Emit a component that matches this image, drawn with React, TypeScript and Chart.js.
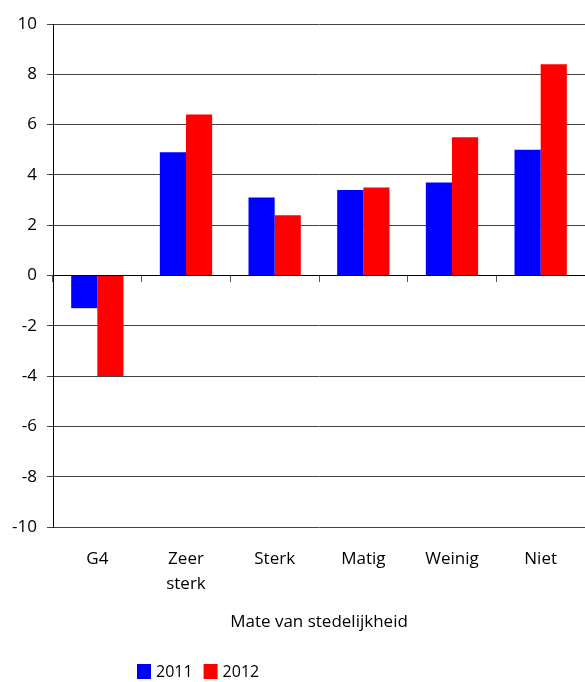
import React, { useEffect, useRef } from "react";
import { Chart, registerables } from "chart.js";

Chart.register(...registerables);

const categories: (string | string[])[] = ["G4", ["Zeer", "sterk"], "Sterk", "Matig", "Weinig", "Niet"];
const series2011 = [-1.3, 4.9, 3.1, 3.4, 3.7, 5.0];
const series2012 = [-4.0, 6.4, 2.4, 3.5, 5.5, 8.4];
const seriesLabels = ["2011", "2012"];
const seriesColors = ["#0000ff", "#ff0000"];
const yMin = -10;
const yMax = 10;
const yStep = 2;
const xTitle = "Mate van stedelijkheid";

const FONT = "'Open Sans', sans-serif";

const legendPlugin = {
  id: "customLegend",
  afterDraw(chart: any) {
    const ctx = chart.ctx;
    ctx.save();
    ctx.font = `16px ${FONT}`;
    ctx.textBaseline = "middle";
    ctx.textAlign = "left";
    let x = 137;
    const boxTop = 664;
    const boxW = 14;
    const boxH = 15;
    chart.data.datasets.forEach((ds: any) => {
      ctx.fillStyle = ds.backgroundColor;
      ctx.fillRect(x, boxTop, boxW, boxH);
      ctx.fillStyle = "#000";
      const tx = x + boxW + 5;
      ctx.fillText(ds.label, tx, boxTop + boxH / 2 + 1);
      x = tx + ctx.measureText(ds.label).width + 11;
    });
    ctx.restore();
  },
};

export default function App() {
  const ref = useRef<HTMLCanvasElement | null>(null);
  useEffect(() => {
    document.body.style.margin = "0";
    const canvas = ref.current!;
    const font = { family: FONT, size: 17 };
    const chart = new Chart(canvas, {
      type: "bar",
      data: {
        labels: categories as any,
        datasets: [
          { label: seriesLabels[0], data: series2011, backgroundColor: seriesColors[0], barPercentage: 1, categoryPercentage: 0.59, xAxisID: "x" },
          { label: seriesLabels[1], data: series2012, backgroundColor: seriesColors[1], barPercentage: 1, categoryPercentage: 0.59, xAxisID: "x" },
        ],
      },
      options: {
        animation: false,
        responsive: true,
        maintainAspectRatio: false,
        layout: { padding: { top: 24, right: 0, left: 0, bottom: 50 } },
        plugins: { legend: { display: false }, tooltip: { enabled: false } },
        scales: {
          x: {
            type: "category",
            position: { y: 0 } as any,
            offset: true,
            grid: { offset: true, drawOnChartArea: false, drawTicks: true, tickLength: 6, color: "#555" },
            ticks: { display: false },
            border: { display: true, color: "#000", width: 1 },
          },
          x2: {
            type: "category",
            position: "bottom",
            offset: true,
            grid: { display: false, drawTicks: false },
            border: { display: false },
            ticks: { color: "#000", font: { ...font, lineHeight: 1.5 }, padding: 19, maxRotation: 0, autoSkip: false },
            title: { display: true, text: xTitle, color: "#000", font, padding: { top: 0, bottom: 0 } },
            afterFit(scale: any) {
              scale.height = 105;
            },
          },
          y: {
            min: yMin,
            max: yMax,
            ticks: { stepSize: yStep, color: "#000", font, padding: 10 },
            grid: { color: "#444", tickLength: 6, drawTicks: true },
            border: { color: "#000", width: 1 },
            afterFit(scale: any) {
              scale.width = 53;
            },
          },
        },
      } as any,
      plugins: [legendPlugin],
    });
    return () => chart.destroy();
  }, []);
  return (
    <div style={{ position: "absolute", left: 0, top: 0, width: 585, height: 682 }}>
      <canvas ref={ref} />
    </div>
  );
}
